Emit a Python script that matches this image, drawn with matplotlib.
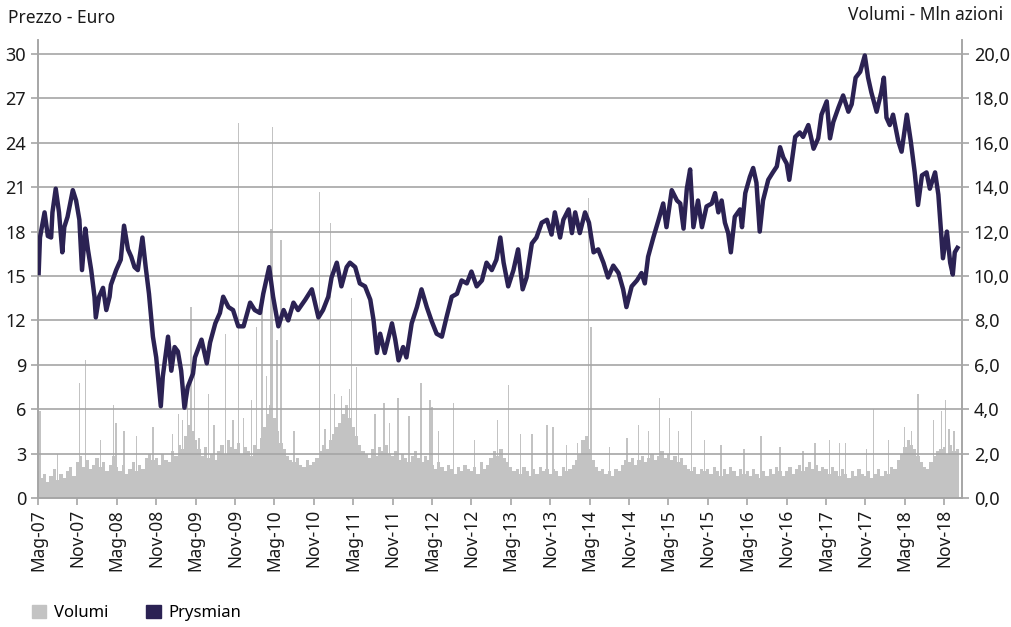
import matplotlib.pyplot as plt
from matplotlib.patches import Patch
import numpy as np

# price: months since May 2007 and euro
price_m = [0.1, 0.3, 1.0, 1.5, 2.0, 2.2, 2.7, 3.2, 3.7, 4.0, 4.5, 5.3, 5.8, 6.3, 6.7, 7.2, 7.6, 8.1, 8.6, 8.8,
           9.3, 9.9, 10.4, 10.9, 11.1, 11.9, 12.6, 13.1, 13.7, 14.2, 14.7, 15.2, 15.9, 16.4, 16.9, 17.5, 18.0, 18.7, 19.0, 19.8,
           20.3, 20.8, 21.3, 21.8, 22.3, 22.8, 23.6, 23.9, 24.9, 25.7, 26.2, 27.0, 27.7, 28.2, 29.0, 29.7, 30.5, 31.3, 32.3, 33.0,
           33.8, 34.3, 35.2, 35.8, 36.6, 37.4, 38.1, 38.9, 39.6, 40.7, 41.7, 42.7, 43.4, 44.2, 44.7, 45.5, 46.2, 47.0, 47.5, 48.3,
           49.0, 49.8, 50.6, 51.1, 51.6, 52.1, 52.8, 53.9, 54.4, 54.9, 55.6, 56.1, 56.9, 57.7, 58.4, 59.2, 59.9, 60.7, 61.5, 62.2,
           63.0, 63.8, 64.5, 65.3, 66.0, 66.8, 67.6, 68.3, 69.1, 69.8, 70.4, 70.9, 71.6, 72.4, 73.1, 73.8, 74.4, 75.2, 75.9, 76.7,
           77.5, 78.2, 78.7, 79.5, 80.0, 80.8, 81.3, 81.8, 82.5, 83.3, 83.9, 84.6, 85.3, 86.1, 86.8, 87.6, 88.4, 89.1, 89.6, 90.4,
           91.2, 91.9, 92.4, 92.9, 93.7, 94.5, 95.2, 95.7, 96.5, 97.3, 97.8, 98.3, 98.8, 99.3, 99.8, 100.5, 101.1, 101.8, 102.6, 103.1,
           103.6, 104.1, 104.6, 105.1, 105.5, 106.1, 106.9, 107.2, 107.7, 108.4, 108.9, 109.4, 109.9, 110.4, 111.2, 111.9, 112.5, 113.0, 113.5, 114.0,
           114.4, 114.8, 115.3, 116.0, 116.5, 117.3, 118.1, 118.8, 119.3, 120.1, 120.6, 121.1, 121.9, 122.6, 123.4, 123.9, 124.5, 125.2, 125.9, 126.4,
           126.9, 127.7, 128.4, 128.8, 129.2, 129.7, 130.2, 131.0, 131.5, 132.3, 132.9, 133.5, 134.0, 134.6, 135.3, 135.8, 136.6, 137.1, 137.5, 137.8,
           138.4, 138.9, 139.3, 139.6, 140.0]
price = [15.2, 17.6, 19.3, 17.7, 17.6, 19.3, 20.9, 19.3, 16.6, 18.3, 19.0, 20.8, 20.1, 18.8, 15.4, 18.2, 16.8, 15.4, 13.6, 12.2,
         13.6, 14.2, 12.7, 13.6, 14.4, 15.4, 16.1, 18.4, 16.8, 16.3, 15.6, 15.4, 17.6, 15.6, 13.8, 10.9, 9.5, 6.2, 8.2, 10.9,
         8.6, 10.2, 9.9, 8.6, 6.1, 7.5, 8.4, 9.5, 10.7, 9.1, 10.5, 11.8, 12.5, 13.6, 12.9, 12.7, 11.6, 11.6, 13.2, 12.7,
         12.5, 13.8, 15.6, 13.6, 11.6, 12.7, 12.0, 13.2, 12.7, 13.4, 14.1, 12.2, 12.7, 13.6, 14.9, 15.9, 14.3, 15.6, 15.9, 15.6,
         14.5, 14.3, 13.4, 12.0, 9.8, 11.1, 9.8, 11.8, 10.7, 9.3, 10.2, 9.5, 11.8, 12.9, 14.1, 12.9, 12.0, 11.1, 10.9, 12.2,
         13.6, 13.8, 14.7, 14.5, 15.3, 14.3, 14.7, 15.9, 15.4, 16.1, 17.6, 15.9, 14.3, 15.4, 16.8, 14.1, 14.9, 17.2, 17.6, 18.6,
         18.8, 17.8, 19.3, 17.6, 18.8, 19.5, 17.9, 19.3, 17.9, 19.3, 18.6, 16.6, 16.8, 15.9, 14.9, 15.7, 15.2, 14.1, 12.9, 14.3,
         14.7, 15.2, 14.5, 16.3, 17.6, 18.8, 19.9, 18.3, 20.8, 20.1, 19.9, 18.2, 20.9, 22.2, 18.3, 20.1, 18.3, 19.7, 19.9, 20.6,
         19.3, 20.1, 18.6, 17.9, 16.6, 19.0, 19.5, 18.3, 20.6, 21.7, 22.3, 21.3, 18.0, 20.1, 21.5, 22.0, 22.4, 23.7, 23.0, 22.6,
         21.5, 22.8, 24.4, 24.7, 24.4, 25.2, 23.6, 24.3, 25.9, 26.8, 24.3, 25.4, 26.4, 27.2, 26.1, 26.6, 28.4, 28.8, 29.9, 28.4,
         27.4, 26.1, 27.4, 28.4, 25.7, 25.2, 25.9, 24.1, 23.4, 25.9, 24.1, 22.0, 19.8, 21.8, 22.0, 20.9, 22.0, 20.5, 18.0, 16.2,
         18.0, 15.9, 15.1, 16.6, 16.9]

# volumes (mln shares), half-month steps from May 2007
vol_base = [1.2, 0.9, 1.1, 0.7, 1.0, 1.3, 0.8, 1.1, 0.9, 1.2, 1.4, 1.0,
            1.6, 1.9, 1.4, 1.7, 1.3, 1.5, 1.8, 1.4, 1.6, 1.2, 1.5, 1.9,
            1.4, 1.2, 1.5, 1.1, 1.3, 1.6, 1.2, 1.5, 1.3, 1.8, 2.0, 1.7,
            1.8, 1.5, 2.0, 1.7, 1.6, 2.1, 1.9, 2.4, 2.2, 2.8, 3.3, 3.0,
            2.6, 2.2, 1.9, 2.3, 1.8, 2.0, 1.7, 2.1, 2.4, 2.0, 2.6, 2.3,
            2.2, 2.5, 2.0, 2.3, 2.1, 1.9, 2.4, 2.2, 2.7, 3.2, 3.8, 4.2,
            3.6, 3.0, 2.5, 2.2, 1.9, 1.7, 1.6, 1.8, 1.5, 1.4, 1.7, 1.5,
            1.6, 1.8, 2.1, 2.4, 2.2, 2.6, 2.9, 3.2, 3.4, 3.8, 4.2, 3.6,
            3.2, 2.8, 2.4, 2.1, 2.0, 1.8, 2.2, 1.9, 2.3, 2.1, 2.4, 2.0,
            1.9, 2.1, 1.7, 2.0, 1.8, 1.6, 1.9, 2.1, 1.8, 1.6, 1.9, 1.7,
            1.5, 1.3, 1.6, 1.4, 1.2, 1.5, 1.3, 1.1, 1.4, 1.2, 1.5, 1.3,
            1.2, 1.4, 1.1, 1.6, 1.3, 1.5, 1.8, 2.1, 1.9, 2.2, 1.8, 1.6,
            1.4, 1.2, 1.3, 1.1, 1.4, 1.2, 1.0, 1.3, 1.1, 1.4, 1.2, 1.3,
            1.1, 1.3, 1.2, 1.0, 1.4, 1.2, 1.3, 1.5, 1.7, 2.0, 2.6, 2.8,
            2.2, 1.7, 1.4, 1.2, 1.3, 1.1, 1.2, 1.0, 1.3, 1.2, 1.5, 1.7,
            1.6, 1.8, 1.5, 1.7, 1.9, 1.6, 1.8, 2.0, 1.7, 1.9, 2.1, 1.8,
            2.0, 1.7, 1.9, 1.6, 1.8, 1.5, 1.3, 1.2, 1.4, 1.1, 1.3, 1.2,
            1.3, 1.1, 1.4, 1.2, 1.0, 1.3, 1.1, 1.4, 1.2, 1.0, 1.3, 1.1,
            1.2, 1.0, 1.3, 1.1, 0.9, 1.2, 1.0, 1.3, 1.1, 1.4, 1.2, 1.0,
            1.2, 1.4, 1.1, 1.3, 1.5, 1.2, 1.4, 1.6, 1.3, 1.5, 1.2, 1.4,
            1.3, 1.1, 1.4, 1.2, 1.0, 1.3, 1.1, 0.9, 1.2, 1.0, 1.3, 1.1,
            1.0, 1.2, 0.9, 1.1, 1.3, 1.0, 1.2, 1.1, 1.4, 1.3, 1.7, 2.0,
            2.3, 2.6, 2.4, 2.2, 1.9, 1.6, 1.4, 1.3, 1.6, 1.9, 2.1, 2.2,
            2.3, 2.0, 2.4, 2.1, 2.2]
vol_base_m = np.arange(len(vol_base)) * 0.5

# single-day volume peaks
spike_m = [0.3, 3.0, 6.3, 7.2, 9.5, 11.5, 11.9, 13.1, 15.0, 17.5, 20.5, 21.4, 22.0, 22.8, 23.3, 23.8, 24.5, 26.0, 26.8, 28.5,
           29.7, 30.5, 31.3, 32.5, 33.3, 34.1, 34.8, 35.5, 35.7, 36.4, 37.0, 39.0, 42.9, 43.7, 44.5, 45.2, 46.2, 47.4, 47.7, 48.5,
           51.3, 52.7, 53.5, 54.8, 56.5, 58.3, 59.7, 60.0, 61.0, 63.3, 66.5, 70.0, 71.6, 73.5, 75.2, 77.5, 78.4, 80.5, 82.1, 83.8,
           84.2, 87.0, 89.7, 91.4, 93.0, 94.6, 96.2, 97.5, 99.5, 101.5, 104.0, 107.5, 110.1, 113.0, 116.5, 118.3, 120.5, 122.0, 123.0, 126.2,
           127.2, 129.5, 131.9, 133.0, 134.0, 136.4, 137.6, 138.2, 138.7, 139.5]
spike_v = [3.9, 2.0, 5.2, 6.2, 2.6, 4.2, 3.4, 3.0, 2.8, 3.2, 2.9, 3.8, 3.5, 5.0, 8.6, 6.5, 2.7, 4.7, 3.3, 7.4,
           3.5, 16.9, 3.6, 4.4, 7.7, 8.5, 5.5, 12.1, 16.7, 7.1, 11.6, 3.0, 13.8, 3.1, 12.4, 4.7, 4.6, 4.9, 9.0, 5.9,
           3.8, 4.3, 3.4, 4.5, 3.7, 5.2, 4.4, 4.1, 3.0, 4.3, 2.6, 3.5, 5.1, 2.9, 2.9, 3.3, 3.2, 2.4, 2.5, 13.5,
           7.7, 2.3, 2.7, 3.3, 3.0, 4.5, 3.6, 3.0, 3.9, 2.6, 2.4, 2.2, 2.8, 2.3, 2.1, 2.5, 2.6, 2.5, 2.5, 2.2,
           4.0, 2.6, 3.2, 3.0, 4.7, 3.5, 3.9, 4.4, 3.1, 3.0]

tick_m = list(range(0, 139, 6))
tick_labels = []
for i in range(len(tick_m)):
    yy = 7 + i // 2
    tick_labels.append(('Mag-' if i % 2 == 0 else 'Nov-') + '%02d' % yy)

plt.rcParams['font.family'] = ['Noto Sans', 'DejaVu Sans']
grey = '#a6a6a6'
line_col = '#2b2253'
bar_col = '#c3c3c3'

fig = plt.figure(figsize=(10.11, 6.27), dpi=100)
ax = fig.add_axes([38/1011, 1 - 498/627, (962 - 38)/1011, (498 - 40)/627])
ax.bar(vol_base_m, vol_base, width=0.5, color=bar_col, linewidth=0, zorder=1)
ax.bar(spike_m, spike_v, width=0.2, color=bar_col, linewidth=0, zorder=1)
ax.set_xlim(0, 140.7)
ax.set_xticks(tick_m)
ax.set_xticklabels(tick_labels, rotation=90)

ax2 = ax.twinx()
# twinx resets the sides, so set them afterwards
ax.yaxis.tick_right()
ax2.yaxis.tick_left()
ax.set_ylim(0, 20 * 458 / 444)
ax.set_yticks(np.arange(0, 21, 2))
ax.set_yticklabels(['%d,0' % v for v in range(0, 21, 2)])
ax2.set_ylim(0, 30 * 458 / 444)
ax2.set_yticks(np.arange(0, 31, 3))
ax2.grid(axis='y', color=grey, linewidth=1.2, zorder=0)
ax2.set_axisbelow(True)
ax2.plot(price_m, price, color=line_col, linewidth=3.2, zorder=3)
ax2.patch.set_visible(False)

for a in (ax, ax2):
    a.spines['top'].set_visible(False)
    for s in ('left', 'right', 'bottom'):
        a.spines[s].set_color(grey)
        a.spines[s].set_linewidth(1.2)
    a.tick_params(colors=grey, labelcolor='#1a1a1a', labelsize=13, length=5, width=1.2)
ax.tick_params(axis='x', labelsize=12.5, pad=3)

fig.text(8/1011, 1 - 18/627, 'Prezzo - Euro', fontsize=12.5, va='center', ha='left', color='#1a1a1a')
fig.text(1003/1011, 1 - 15/627, 'Volumi - Mln azioni', fontsize=12.5, va='center', ha='right', color='#1a1a1a')

handles = [Patch(color=bar_col, label='Volumi'), Patch(color=line_col, label='Prysmian')]
fig.legend(handles=handles, loc='center left', bbox_to_anchor=(17/1011, 1 - 613/627), ncol=2, frameon=False,
           fontsize=12, handlelength=0.85, handleheight=0.85, handletextpad=0.45, columnspacing=2.3)

fig.savefig('out.png', dpi=100)
